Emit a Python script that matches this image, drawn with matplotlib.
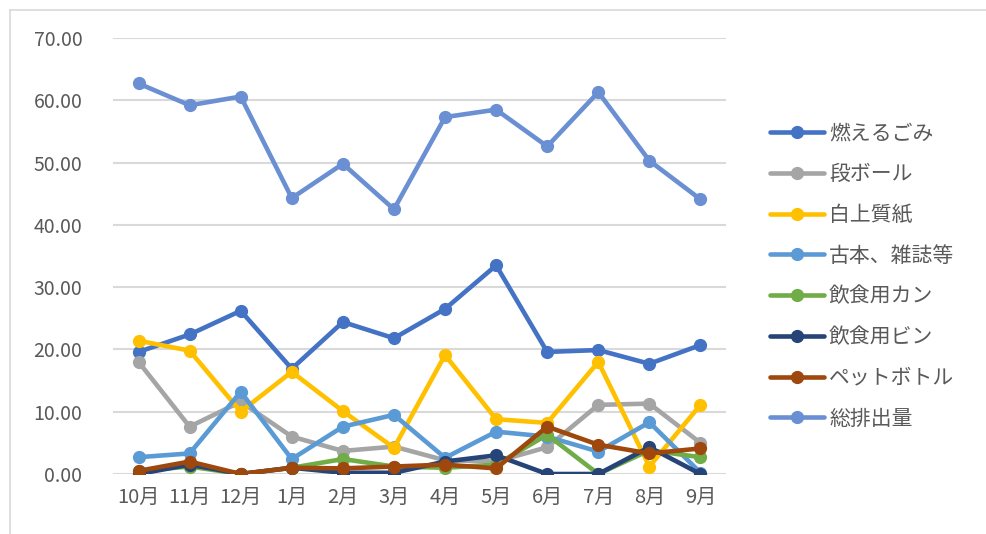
import numpy as np
import matplotlib.pyplot as plt
from matplotlib.lines import Line2D

plt.rcParams['font.family'] = ['Noto Sans CJK JP', 'DejaVu Sans']

months = ['10月', '11月', '12月', '1月', '2月', '3月', '4月', '5月', '6月', '7月', '8月', '9月']

moeru = [19.6, 22.4, 26.2, 16.9, 24.4, 21.8, 26.5, 33.5, 19.6, 19.9, 17.7, 20.7]
danboru = [18.0, 7.6, 11.6, 6.0, 3.7, 4.4, 2.2, 2.0, 4.3, 11.1, 11.3, 5.0]
hakujo = [21.4, 19.8, 10.0, 16.4, 10.1, 4.2, 19.1, 8.8, 8.2, 18.0, 1.2, 11.1]
kohon = [2.7, 3.3, 13.2, 2.4, 7.6, 9.5, 2.6, 6.8, 6.0, 3.6, 8.3, 0.2]
kan = [0.5, 1.2, 0.0, 1.0, 2.4, 1.2, 1.0, 1.5, 6.3, 0.0, 3.8, 2.7]
bin_ = [0.0, 1.5, 0.0, 1.0, 0.2, 0.2, 2.0, 3.0, 0.0, 0.0, 4.3, 0.0]
pet = [0.5, 2.0, 0.0, 1.0, 0.9, 1.2, 1.5, 0.9, 7.6, 4.7, 3.3, 4.1]
total = [62.7, 59.2, 60.6, 44.3, 49.8, 42.5, 57.3, 58.5, 52.6, 61.3, 50.3, 44.1]

series = [
    ('燃えるごみ', moeru, '#4472C4'),
    ('段ボール', danboru, '#A5A5A5'),
    ('白上質紙', hakujo, '#FFC000'),
    ('古本、雑誌等', kohon, '#5B9BD5'),
    ('飲食用カン', kan, '#70AD47'),
    ('飲食用ビン', bin_, '#264478'),
    ('ペットボトル', pet, '#9E480E'),
    ('総排出量', total, '#6A8FD2'),
]

fig = plt.figure(figsize=(9.87, 5.34), dpi=100)
ax = fig.add_axes([113/987, 1-474/534, (726-113)/987, (474-38)/534])

x = np.arange(len(months))
for name, vals, col in series:
    ax.plot(x, vals, color=col, lw=3.3, marker='o', markersize=8.5, label=name,
            solid_capstyle='round')

ax.set_xlim(-0.5, 11.5)
ax.set_ylim(0, 70)
ax.set_yticks(np.arange(0, 71, 10))
ax.set_yticklabels(['%.2f' % v for v in np.arange(0, 71, 10)])
ax.set_xticks(x)
ax.set_xticklabels(months)
ax.tick_params(length=0, colors='#595959')
ax.tick_params(axis='x', labelsize=14.5, pad=9)
ax.tick_params(axis='y', labelsize=14, pad=22)
ax.grid(axis='y', color='#D9D9D9', lw=1.5)
ax.set_axisbelow(True)
for s in ax.spines.values():
    s.set_visible(False)

leg = fig.legend(loc='center left', bbox_to_anchor=(751/987, 1-276/534),
                 frameon=False, fontsize=15, handlelength=2.6,
                 handletextpad=0.25, labelspacing=0.9)
for t in leg.get_texts():
    t.set_color('#595959')

# outer chart border
fig.add_artist(Line2D([10/987, 1], [1-10/534, 1-10/534], color='#D9D9D9', lw=1.2))
fig.add_artist(Line2D([10/987, 10/987], [0, 1-10/534], color='#D9D9D9', lw=1.2))

fig.savefig('out.png', dpi=100)
